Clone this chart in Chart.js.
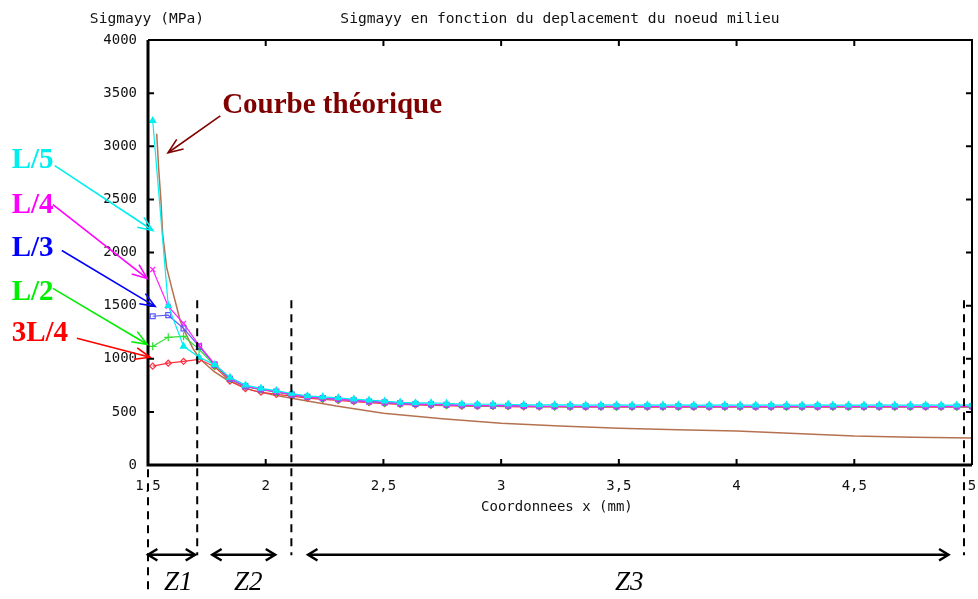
<!DOCTYPE html>
<html>
<head>
<meta charset="utf-8">
<script src="https://cdn.jsdelivr.net/npm/chart.js@4"></script>
<style>
  html, body { margin: 0; padding: 0; background: #fff; }
</style>
</head>
<body>
<canvas id="sigmaChart" width="978" height="599"></canvas>
<script>
// node coordinates (mm) of the FE meshes
const xNodes = [
  1.52, 1.586, 1.651, 1.717, 1.783, 1.848, 1.914, 1.98, 2.045, 2.111,
  2.177, 2.242, 2.308, 2.374, 2.439, 2.505, 2.571, 2.636, 2.702, 2.768,
  2.833, 2.899, 2.965, 3.03, 3.096, 3.162, 3.227, 3.293, 3.359, 3.424,
  3.49, 3.556, 3.621, 3.687, 3.753, 3.818, 3.884, 3.95, 4.015, 4.081,
  4.147, 4.212, 4.278, 4.344, 4.409, 4.475, 4.541, 4.606, 4.672, 4.738,
  4.803, 4.869, 4.935, 5.0
];

// Sigmayy (MPa) per mesh
const sigL5 = [
  3240, 1500, 1117, 1014, 945, 825, 752, 722, 700, 673,
  651, 641, 632, 620, 610, 601, 590, 585, 585, 580,
  574, 573, 572, 572, 567, 565, 566, 565, 564, 565,
  565, 564, 565, 564, 565, 564, 564, 565, 564, 564,
  565, 564, 564, 565, 564, 564, 564, 565, 564, 564,
  565, 564, 564, 565
];
const sigL4 = [
  1840, 1493, 1333, 1127, 950, 815, 742, 712, 690, 662,
  640, 628, 618, 606, 596, 588, 578, 572, 570, 566,
  561, 559, 558, 557, 553, 551, 552, 551, 550, 551,
  551, 550, 551, 550, 550, 551, 550, 550, 551, 550,
  550, 551, 550, 550, 551, 550, 550, 551, 550, 550,
  551, 550, 550, 551
];
const sigL3 = [
  1400, 1410, 1286, 1117, 945, 812, 740, 712, 690, 663,
  642, 630, 620, 608, 598, 589, 580, 574, 571, 567,
  562, 560, 559, 558, 555, 553, 553, 552, 552, 552,
  552, 551, 552, 551, 552, 551, 551, 552, 551, 551,
  552, 551, 551, 552, 551, 551, 551, 552, 551, 551,
  552, 551, 551, 552
];
const sigL2 = [
  1117, 1202, 1211, 1089, 935, 808, 736, 708, 686, 660,
  640, 627, 617, 605, 595, 586, 577, 571, 568, 564,
  559, 557, 556, 555, 552, 550, 550, 549, 549, 549,
  549, 548, 549, 548, 549, 548, 548, 549, 548, 548,
  549, 548, 548, 549, 548, 548, 548, 549, 548, 548,
  549, 548, 548, 549
];
const sig3L4 = [
  930, 958, 976, 995, 925, 790, 718, 685, 665, 648,
  630, 618, 608, 597, 587, 578, 570, 565, 562, 558,
  554, 552, 551, 550, 547, 546, 546, 545, 545, 545,
  545, 544, 545, 544, 545, 544, 544, 545, 544, 544,
  545, 544, 544, 545, 544, 544, 544, 545, 544, 544,
  545, 544, 544, 545
];

// theoretical curve
const theoX = [1.537, 1.545, 1.555, 1.562, 1.579, 1.6, 1.622, 1.636, 1.657, 1.69,
  1.72, 1.78, 1.836, 1.9, 1.947, 2.03, 2.11, 2.3, 2.5, 2.75,
  3.0, 3.25, 3.5, 3.75, 4.0, 4.25, 4.5, 4.75, 5.0];
const theoY = [3117, 2800, 2488, 2178, 1862, 1674, 1487, 1362, 1250, 1100,
  1000, 880, 800, 740, 700, 660, 629, 555, 488, 435,
  394, 368, 347, 332, 319, 296, 272, 262, 254];

const xTicks = [1.5, 2, 2.5, 3, 3.5, 4, 4.5, 5];
const yTicks = [0, 500, 1000, 1500, 2000, 2500, 3000, 3500, 4000];

// zone limits and labels
const zoneBounds = [1.709, 2.109, 4.966];
const zones = [
  { name: "Z1", from: 1.5, to: 1.70, mid: 1.628 },
  { name: "Z2", from: 1.773, to: 2.04, mid: 1.926 },
  { name: "Z3", from: 2.18, to: 4.90, mid: 3.544 }
];

// mesh labels with arrows (data units)
const meshLabels = [
  { text: "L/5", color: "#00eeee", tx: 0.921, ty: 2864, ax: 1.104, ay: 2817, bx: 1.521, by: 2207 },
  { text: "L/4", color: "#ff00ff", tx: 0.921, ty: 2441, ax: 1.096, ay: 2451, bx: 1.496, by: 1756 },
  { text: "L/3", color: "#0000ff", tx: 0.921, ty: 2038, ax: 1.134, ay: 2019, bx: 1.530, by: 1493 },
  { text: "L/2", color: "#00ee00", tx: 0.921, ty: 1624, ax: 1.096, ay: 1662, bx: 1.496, by: 1136 },
  { text: "3L/4", color: "#ff0000", tx: 0.921, ty: 1239, ax: 1.198, ay: 1192, bx: 1.509, by: 1014 },
  { text: "Courbe théorique", color: "#800000", tx: 1.815, ty: 3380, ax: 1.807, ay: 3286, bx: 1.585, by: 2939 }
];

const mono = "'DejaVu Sans Mono', monospace";

function pts(xs, ys) {
  return xs.map((x, i) => ({ x: x, y: ys[i] }));
}

function vHead(ctx, x0, y0, x1, y1, len, spread) {
  const a = Math.atan2(y1 - y0, x1 - x0);
  ctx.beginPath();
  ctx.moveTo(x1 - len * Math.cos(a - spread), y1 - len * Math.sin(a - spread));
  ctx.lineTo(x1, y1);
  ctx.lineTo(x1 - len * Math.cos(a + spread), y1 - len * Math.sin(a + spread));
  ctx.stroke();
}

const overlay = {
  id: "overlay",
  afterDraw(chart) {
    const ctx = chart.ctx;
    const ca = chart.chartArea;
    const sx = chart.scales.x, sy = chart.scales.y;
    const px = v => sx.getPixelForValue(v);
    const py = v => sy.getPixelForValue(v);
    ctx.save();

    // frame
    ctx.strokeStyle = "#000";
    ctx.setLineDash([]);
    ctx.lineWidth = 2;
    ctx.beginPath();
    ctx.moveTo(ca.left, ca.top); ctx.lineTo(ca.right, ca.top); ctx.lineTo(ca.right, ca.bottom);
    ctx.stroke();
    ctx.lineWidth = 3;
    ctx.beginPath();
    ctx.moveTo(ca.left, ca.top); ctx.lineTo(ca.left, ca.bottom); ctx.lineTo(ca.right, ca.bottom);
    ctx.stroke();

    // inward ticks
    ctx.lineWidth = 2;
    ctx.beginPath();
    yTicks.forEach(v => {
      const yy = py(v);
      ctx.moveTo(ca.left, yy); ctx.lineTo(ca.left + 6, yy);
      ctx.moveTo(ca.right, yy); ctx.lineTo(ca.right - 6, yy);
    });
    xTicks.forEach(v => {
      const xx = px(v);
      ctx.moveTo(xx, ca.bottom); ctx.lineTo(xx, ca.bottom - 6);
      ctx.moveTo(xx, ca.top); ctx.lineTo(xx, ca.top + 6);
    });
    ctx.stroke();

    // titles
    ctx.fillStyle = "#111";
    ctx.font = "14.6px " + mono;
    ctx.textBaseline = "middle";
    ctx.textAlign = "left";
    ctx.fillText("Sigmayy (MPa)", px(1.253), py(4197));
    ctx.textAlign = "center";
    ctx.fillText("Sigmayy en fonction du deplacement du noeud milieu", px(3.25), py(4197));
    ctx.font = "14px " + mono;
    ctx.fillText("Coordonnees x (mm)", px(3.237), py(-394));

    // zone boundaries
    ctx.strokeStyle = "#000";
    ctx.lineWidth = 2;
    ctx.setLineDash([8, 6]);
    ctx.beginPath();
    ctx.moveTo(px(1.5), py(-40)); ctx.lineTo(px(1.5), py(-1175));
    zoneBounds.forEach(v => {
      ctx.moveTo(px(v), py(1550)); ctx.lineTo(px(v), py(-850));
    });
    ctx.stroke();
    ctx.setLineDash([]);

    // zone arrows
    ctx.lineWidth = 2.5;
    const ya = py(-845);
    zones.forEach(z => {
      const a = px(z.from), b = px(z.to);
      ctx.beginPath(); ctx.moveTo(a, ya); ctx.lineTo(b, ya); ctx.stroke();
      vHead(ctx, b, ya, a, ya, 11, 0.55);
      vHead(ctx, a, ya, b, ya, 11, 0.55);
    });
    ctx.fillStyle = "#000";
    ctx.font = "italic 27px 'Liberation Serif', serif";
    ctx.textAlign = "center";
    zones.forEach(z => ctx.fillText(z.name, px(z.mid), py(-1108)));

    // mesh labels and arrows
    meshLabels.forEach(m => {
      ctx.strokeStyle = m.color;
      ctx.fillStyle = m.color;
      ctx.lineWidth = 1.6;
      ctx.beginPath(); ctx.moveTo(px(m.ax), py(m.ay)); ctx.lineTo(px(m.bx), py(m.by)); ctx.stroke();
      vHead(ctx, px(m.ax), py(m.ay), px(m.bx), py(m.by), 16, 0.38);
      ctx.font = "bold 29px 'Liberation Serif', serif";
      ctx.textAlign = "left";
      ctx.fillText(m.text, px(m.tx), py(m.ty));
    });
    ctx.restore();
  }
};

const seriesStyle = (label, data, color, style, radius, fill) => ({
  label: label,
  data: data,
  borderColor: color,
  backgroundColor: fill ? color : "rgba(0,0,0,0)",
  borderWidth: 1.2,
  pointStyle: style,
  pointRadius: radius,
  pointBorderWidth: 1.2,
  pointBorderColor: color,
  tension: 0
});

new Chart(document.getElementById("sigmaChart"), {
  type: "line",
  data: {
    datasets: [
      Object.assign(seriesStyle("L/5", pts(xNodes, sigL5), "#00f0f0", "triangle", 3.5, true), { order: 1 }),
      Object.assign(seriesStyle("L/4", pts(xNodes, sigL4), "#ff20ff", "crossRot", 3.5, false), { order: 2 }),
      Object.assign(seriesStyle("L/3", pts(xNodes, sigL3), "#5a5aff", "rect", 3.5, false), { order: 3 }),
      Object.assign(seriesStyle("L/2", pts(xNodes, sigL2), "#33dd33", "cross", 4, false), { order: 4 }),
      Object.assign(seriesStyle("3L/4", pts(xNodes, sig3L4), "#ff3040", "rectRot", 3, false), { order: 5 }),
      {
        label: "Courbe théorique",
        data: pts(theoX, theoY),
        borderColor: "#b5714f",
        borderWidth: 1.5,
        pointRadius: 0,
        tension: 0,
        order: 6
      }
    ]
  },
  options: {
    responsive: false,
    animation: false,
    layout: { padding: { top: 40, right: 6, left: 0, bottom: 0 } },
    plugins: {
      legend: { display: false },
      tooltip: { enabled: false }
    },
    scales: {
      x: {
        type: "linear",
        min: 1.5,
        max: 5,
        grid: { display: false, drawTicks: false },
        border: { display: false },
        afterBuildTicks: s => { s.ticks = xTicks.map(v => ({ value: v })); },
        afterFit: s => { s.height = 134; s.paddingLeft = 0; s.paddingRight = 0; },
        ticks: {
          padding: 13,
          color: "#111",
          font: { family: mono, size: 14 },
          maxRotation: 0,
          callback: v => String(v).replace(".", ",")
        }
      },
      y: {
        min: 0,
        max: 4000,
        grid: { display: false, drawTicks: false },
        border: { display: false },
        afterBuildTicks: s => { s.ticks = yTicks.map(v => ({ value: v })); },
        afterFit: s => { s.width = 148; s.paddingTop = 0; s.paddingBottom = 0; },
        ticks: {
          padding: 11,
          color: "#111",
          font: { family: mono, size: 14 },
          callback: v => String(v)
        }
      }
    }
  },
  plugins: [overlay]
});
</script>
</body>
</html>
